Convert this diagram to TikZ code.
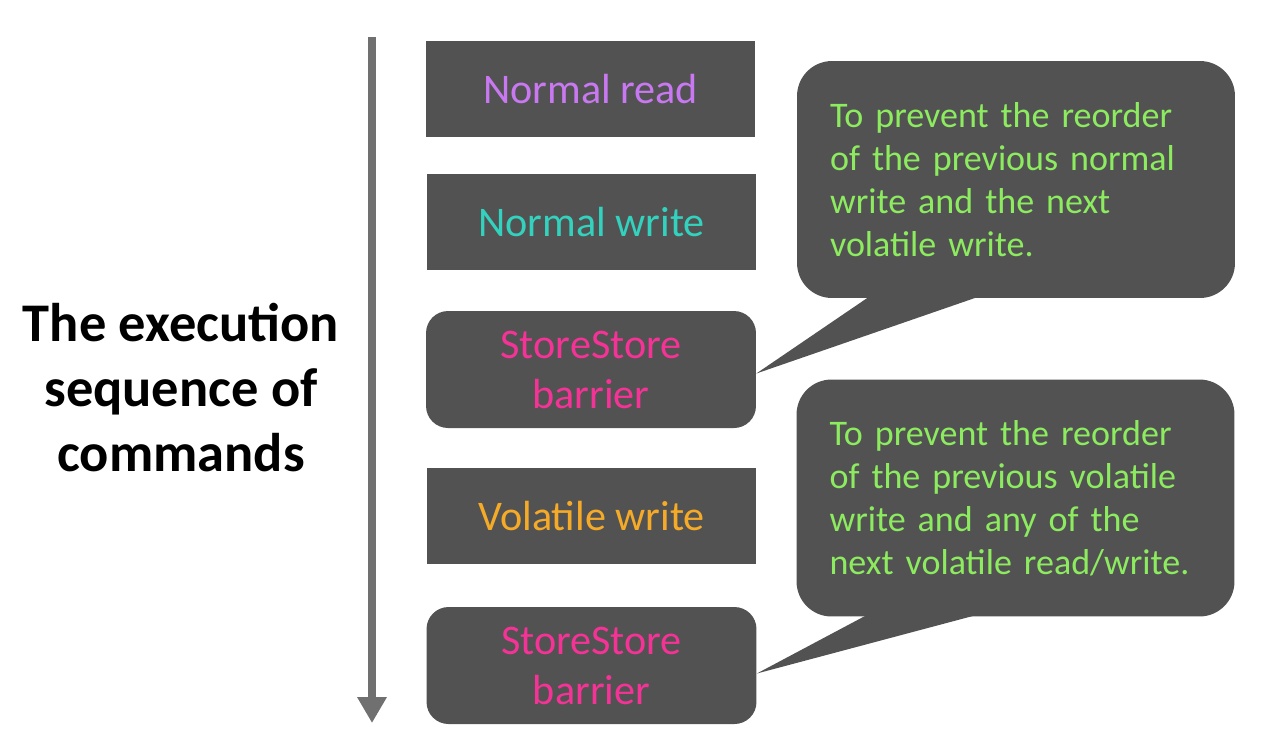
\documentclass[tikz,border=0pt]{standalone}
\usepackage{fontspec}
\setmainfont{Carlito}
\usetikzlibrary{arrows.meta,calc}
\definecolor{boxgray}{RGB}{82,82,82}
\definecolor{arrowgray}{RGB}{112,112,112}
\definecolor{readc}{RGB}{200,120,240}
\definecolor{writec}{RGB}{50,210,190}
\definecolor{barrierc}{RGB}{245,50,150}
\definecolor{volc}{RGB}{245,170,40}
\definecolor{notec}{RGB}{140,235,95}
\begin{document}
\begin{tikzpicture}[x=0.02cm,y=-0.02cm,
  cmd/.style={fill=boxgray,minimum width=6.6cm,minimum height=1.92cm,inner sep=0pt,align=center,font=\fontsize{24}{28.5}\selectfont},
  fence/.style={cmd,minimum height=2.34cm,rounded corners=0.44cm},
  note/.style={fill=boxgray,rounded corners=0.7cm,minimum width=8.76cm,minimum height=4.74cm,text width=7.44cm,inner xsep=0.66cm,align=left,text=notec,font=\fontsize{20.5}{24.5}\selectfont}]
  \useasboundingbox (0,0) rectangle (1270,752);
  % time line on the left
  \coordinate (top)    at (372,37);
  \coordinate (bottom) at (372,723);
  \draw[arrowgray,line width=5.1pt,-{Triangle[width=0.56cm,length=0.52cm]}] (top) -- (bottom);
  \node[font=\bfseries\fontsize{31}{37}\selectfont,align=center] (seq) at (181,388) {The execution\\sequence of\\commands};
  % the commands
  \node[cmd,text=readc]      (read)   at (590.5,89)    {Normal read};
  \node[cmd,text=writec]     (write)  at (591.5,222)   {Normal write};
  \node[fence,text=barrierc] (fence1) at (591,369.5)   {StoreStore\\barrier};
  \node[cmd,text=volc]       (vwrite) at (591.5,516)   {Volatile write};
  \node[fence,text=barrierc] (fence2) at (591.5,665.5) {StoreStore\\barrier};
  % the callouts
  \node[note] (note1) at (1016,179.5) {To prevent the reorder\\of the previous normal\\write and the next\\volatile write.};
  \node[note] (note2) at (1015.5,498) {To prevent the reorder\\of the previous volatile\\write and any of the\\next volatile read/write.};
  \fill[boxgray] ($(fence1.east)+(0,4)$) -- ($(note1.south west)+(73,-2)$) -- ($(note1.south west)+(183,-2)$) -- cycle;
  \fill[boxgray] ($(fence2.east)+(0,8)$) -- ($(note2.south west)+(71,-2)$) -- ($(note2.south west)+(181,-2)$) -- cycle;
\end{tikzpicture}
\end{document}
